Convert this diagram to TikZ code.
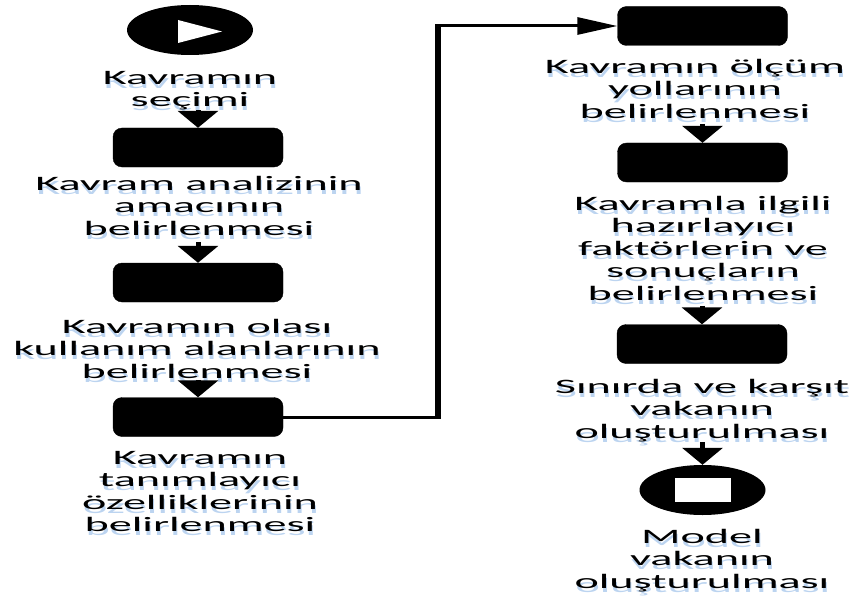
\documentclass[tikz,border=0pt]{standalone}
\usepackage{fontspec}
\setmainfont{Carlito}[FakeStretch=2.25]
\usetikzlibrary{arrows.meta,calc,shapes.geometric}
\definecolor{glow}{RGB}{188,212,240}
\tikzset{
  box/.style={fill=black, draw=black, rounded corners=9pt, minimum width=170pt, minimum height=39pt, inner sep=0pt},
  terminal/.style={ellipse, fill=black, minimum width=126pt, minimum height=50pt, inner sep=0pt},
  lbl/.style={align=center, font=\fontsize{20.5}{22.5}\selectfont, inner sep=0pt, anchor=north},
  lblsh/.style={lbl, text=glow},
  varr/.style={line width=5pt, -{Triangle[width=40pt,length=17pt]}},
  hline/.style={line width=3pt},
  vline/.style={line width=5.5pt},
  harr/.style={line width=3pt, -{Triangle[width=17pt,length=40pt]}},
}
\newcommand\steplabel[3]{%
  \node[lblsh] (#1sh) at ($#2+(1,4)$) {#3};
  \node[lbl] (#1) at #2 {#3};}
\begin{document}
\begin{tikzpicture}[x=1pt,y=-1pt]
\useasboundingbox (0,0) rectangle (859,599);
% shapes
\node[terminal] (start) at (190,30) {};
\fill[white] ($(start)+(-12,-10)$) -- ($(start)+(-12,13)$) -- ($(start)+(32,1.5)$) -- cycle;
\node[box] (b1) at (198,147.5) {};
\node[box] (b2) at (198,282.5) {};
\node[box] (b3) at (198,417) {};
\node[box] (b4) at (702.5,26) {};
\node[box] (b5) at (702.5,162.5) {};
\node[box] (b6) at (702,344) {};
\node[terminal] (end) at (702.5,490) {};
\node[fill=white, minimum width=56pt, minimum height=24pt, inner sep=0pt] (endicon) at (end) {};
% labels
\steplabel{l1}{(190,71)}{Kavramın\\seçimi}
\steplabel{l2}{(199,176)}{Kavram analizinin\\amacının\\belirlenmesi}
\steplabel{l3}{(197,319)}{Kavramın olası\\kullanım alanlarının\\belirlenmesi}
\steplabel{l4}{(200,451)}{Kavramın\\tanımlayıcı\\özelliklerinin\\belirlenmesi}
\steplabel{l5}{(695,59)}{Kavramın ölçüm\\yollarının\\belirlenmesi}
\steplabel{l6}{(703,196)}{Kavramla ilgili\\hazırlayıcı\\faktörlerin ve\\sonuçların\\belirlenmesi}
\steplabel{l7}{(702,379)}{Sınırda ve karşıt\\vakanın\\oluşturulması}
\steplabel{l8}{(702,529)}{Model\\vakanın\\oluşturulması}
% connectors
\coordinate (turn) at (438,200);
\draw[varr] (b1.north |- l1.south) -- (b1.north);
\draw[varr, shorten <=6pt] (b2.north |- l2.south) -- (b2.north);
\draw[varr, shorten <=1pt] (b3.north |- l3.south) -- (b3.north);
\draw[hline] (b3.east) -- (b3.east -| turn);
\draw[vline, shorten <=-1.5pt, shorten >=-1.5pt] (turn |- b3.east) -- (turn |- b4.west);
\draw[harr] (turn |- b4.west) -- (b4.west);
\draw[varr, shorten <=5pt] (b5.north |- l5.south) -- (b5.north);
\draw[varr, shorten <=5pt] (b6.north |- l6.south) -- (b6.north);
\draw[varr] (end.north |- l7.south) -- (end.north);
\end{tikzpicture}
\end{document}
